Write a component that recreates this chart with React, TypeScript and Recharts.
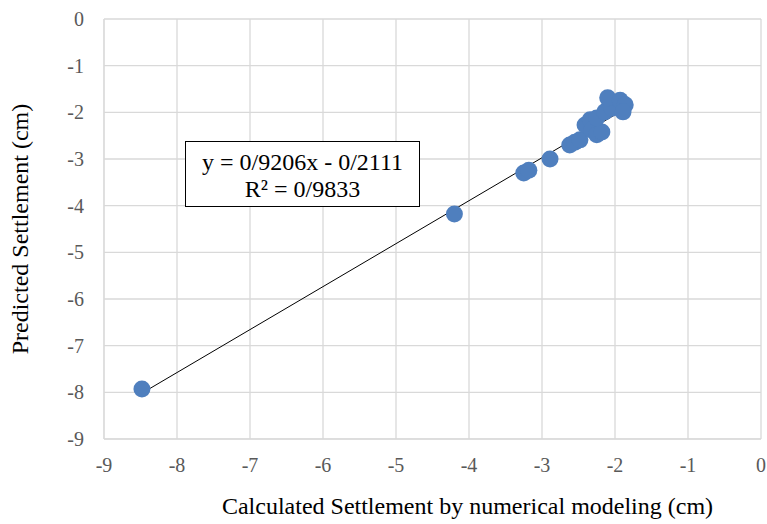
import {
  ScatterChart,
  Scatter,
  XAxis,
  YAxis,
  CartesianGrid,
  ReferenceLine,
} from "recharts";

// calculated settlement (numerical modeling), cm
const calculated = [
  -8.48, -4.2, -3.25, -3.18, -2.89, -2.62, -2.55, -2.48, -2.41, -2.34, -2.32,
  -2.25, -2.18, -2.25, -2.14, -2.04, -2.1, -1.93, -1.86, -1.89,
];
// predicted settlement, cm
const predicted = [
  -7.93, -4.18, -3.3, -3.24, -3.0, -2.7, -2.64, -2.59, -2.27, -2.16, -2.38,
  -2.48, -2.42, -2.12, -1.99, -1.91, -1.69, -1.74, -1.84, -1.99,
];

const xTicks = [-9, -8, -7, -6, -5, -4, -3, -2, -1, 0];
const yTicks = [-9, -8, -7, -6, -5, -4, -3, -2, -1, 0];

const slope = 0.9206;
const intercept = -0.2111;
const equation = "y = 0/9206x - 0/2111";
const rSquared = "R² = 0/9833";

const points = calculated.map((x, i) => ({ x, y: predicted[i] }));
const xMin = Math.min(...calculated);
const xMax = Math.max(...calculated);

const font = "'Liberation Serif', 'Times New Roman', serif";

const Dot = (props: any) => (
  <circle cx={props.cx} cy={props.cy} r={8.5} fill="#4f7fbe" />
);

const XTick = (props: any) => (
  <text
    x={props.x}
    y={props.y}
    dy={14}
    textAnchor="middle"
    fill="#595959"
    fontSize={20}
    fontFamily={font}
  >
    {props.payload.value}
  </text>
);

const YTick = (props: any) => (
  <text
    x={props.x}
    y={props.y}
    dy={7}
    textAnchor="end"
    fill="#595959"
    fontSize={20}
    fontFamily={font}
  >
    {props.payload.value}
  </text>
);

export default function App() {
  return (
    <div
      style={{
        position: "relative",
        width: 767,
        height: 524,
        fontFamily: font,
      }}
    >
      <style>{"body { margin: 0; }"}</style>
      <ScatterChart
        width={767}
        height={524}
        margin={{ top: 19, right: 6, left: 0, bottom: 0 }}
        style={{ fontFamily: font }}
      >
        <CartesianGrid stroke="#d9d9d9" strokeWidth={1.3} />
        <XAxis
          type="number"
          dataKey="x"
          domain={[-9, 0]}
          ticks={xTicks}
          interval={0}
          height={85}
          axisLine={{ stroke: "#d9d9d9" }}
          tickLine={false}
          tickSize={0}
          tickMargin={19}
          tick={<XTick />}
          label={{
            value: "Calculated Settlement by numerical modeling (cm)",
            position: "insideBottom",
            offset: 10,
            dx: 35,
            fill: "#000",
            fontSize: 24,
            fontFamily: font,
          }}
        />
        <YAxis
          type="number"
          dataKey="y"
          domain={[-9, 0]}
          ticks={yTicks}
          interval={0}
          width={104}
          axisLine={{ stroke: "#d9d9d9" }}
          tickLine={false}
          tickSize={0}
          tickMargin={20}
          tick={<YTick />}
          label={{
            value: "Predicted Settlement (cm)",
            angle: -90,
            position: "insideLeft",
            offset: 19,
            style: { textAnchor: "middle" },
            fill: "#000",
            fontSize: 24,
            fontFamily: font,
          }}
        />
        <ReferenceLine
          segment={[
            { x: xMin, y: slope * xMin + intercept },
            { x: xMax, y: slope * xMax + intercept },
          ]}
          stroke="#000"
          strokeWidth={1}
          ifOverflow="visible"
        />
        <Scatter data={points} shape={Dot} isAnimationActive={false} />
      </ScatterChart>
      <div
        style={{
          position: "absolute",
          left: 185,
          top: 141,
          width: 235,
          height: 66,
          border: "1px solid #000",
          background: "#fff",
          fontSize: 24,
          lineHeight: "27px",
          textAlign: "center",
          paddingTop: 7,
          boxSizing: "border-box",
          color: "#000",
        }}
      >
        <div>{equation}</div>
        <div>{rSquared}</div>
      </div>
    </div>
  );
}
